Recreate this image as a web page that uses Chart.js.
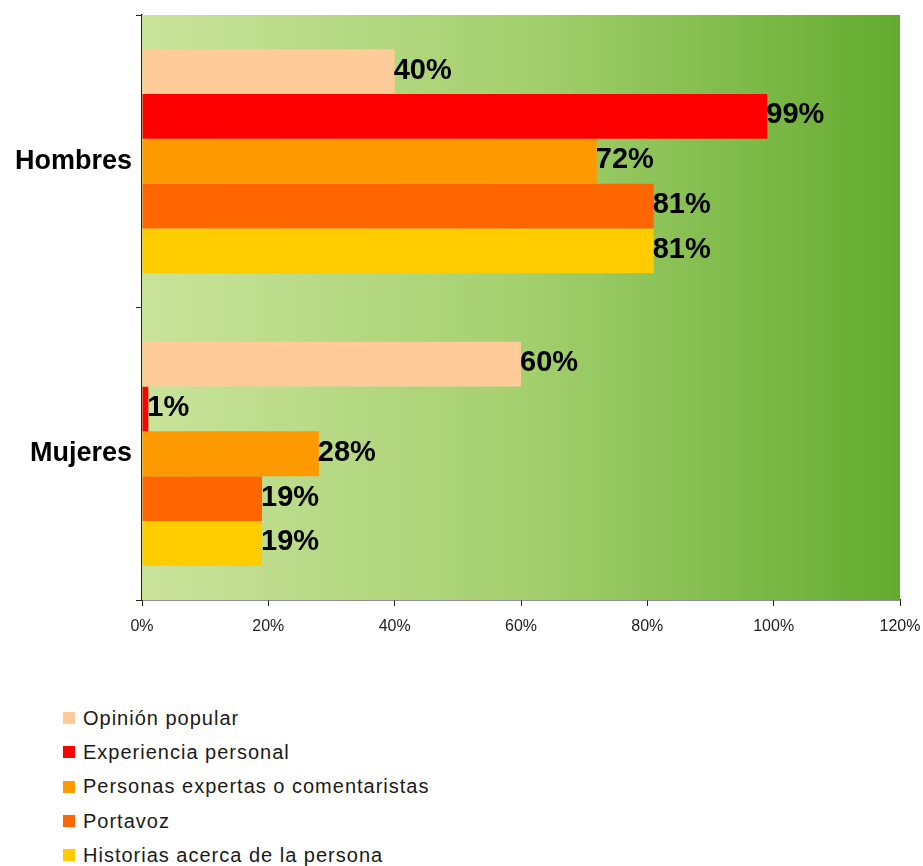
<!DOCTYPE html>
<html>
<head>
<meta charset="utf-8">
<script src="https://cdn.jsdelivr.net/npm/chart.js@4/dist/chart.umd.min.js"></script>
<style>
  body { margin: 0; background: #fff; }
  #wrap { position: relative; width: 923px; height: 866px; }
  #chart-box { position: absolute; left: 0; top: 0; width: 923px; height: 650px; }
  #legend { position: absolute; left: 63px; top: 701px; margin: 0; padding: 0; list-style: none;
            font-family: "Liberation Sans", Arial, sans-serif; font-size: 20px; letter-spacing: 1px; color: #1a1a1a; }
  #legend li { height: 34.3px; display: flex; align-items: center; }
  #legend .swatch { width: 12px; height: 12px; margin-right: 8px; flex: none; }
</style>
</head>
<body>
<div id="wrap">
  <div id="chart-box"><canvas id="chart"></canvas></div>
  <ul id="legend"></ul>
</div>
<script>
const categories = ["Hombres", "Mujeres"];
const seriesNames = [
  "Opinión popular",
  "Experiencia personal",
  "Personas expertas o comentaristas",
  "Portavoz",
  "Historias acerca de la persona",
];
const opinionPopular = [40, 60];
const experienciaPersonal = [99, 1];
const personasExpertas = [72, 28];
const portavoz = [81, 19];
const historias = [81, 19];
const seriesColors = ["#ffcc99", "#ff0000", "#ff9900", "#ff6600", "#ffcc00"];

const seriesValues = [opinionPopular, experienciaPersonal, personasExpertas, portavoz, historias];

// green wash behind the bars
const plotBackground = {
  id: "plotBackground",
  beforeDatasetsDraw(chart) {
    const { ctx, chartArea: a } = chart;
    const g = ctx.createLinearGradient(a.left, 0, a.right, 0);
    g.addColorStop(0, "#c9e39b");
    g.addColorStop(0.5, "#a5d06f");
    g.addColorStop(1, "#63ab2f");
    ctx.save();
    ctx.fillStyle = g;
    ctx.fillRect(a.left, a.top, a.right - a.left, a.bottom - a.top);
    ctx.restore();
  },
};

// percentage printed at the end of each bar
const barValues = {
  id: "barValues",
  afterDatasetsDraw(chart) {
    const { ctx } = chart;
    ctx.save();
    ctx.font = "bold 29px 'Liberation Sans', Arial, sans-serif";
    ctx.fillStyle = "#000";
    ctx.textAlign = "left";
    ctx.textBaseline = "middle";
    chart.data.datasets.forEach((ds, i) => {
      chart.getDatasetMeta(i).data.forEach((bar, j) => {
        ctx.fillText(ds.data[j] + "%", bar.x - 1, bar.y - 1);
      });
    });
    ctx.restore();
  },
};

new Chart(document.getElementById("chart"), {
  type: "bar",
  data: {
    labels: categories,
    datasets: seriesNames.map((name, i) => ({
      label: name,
      data: seriesValues[i],
      backgroundColor: seriesColors[i],
      borderWidth: 0,
      barPercentage: 1,
      categoryPercentage: 0.765,
    })),
  },
  options: {
    indexAxis: "y",
    responsive: true,
    maintainAspectRatio: false,
    animation: false,
    layout: { padding: { top: 15, right: 23, left: 0, bottom: 0 } },
    plugins: {
      legend: { display: false },
      tooltip: { enabled: false },
    },
    scales: {
      x: {
        min: 0,
        max: 120,
        ticks: {
          stepSize: 20,
          callback: (v) => v + "%",
          color: "#222",
          font: { family: "'Liberation Sans', Arial, sans-serif", size: 16 },
          padding: 11,
          maxRotation: 0,
        },
        grid: { drawOnChartArea: false, tickLength: 6, color: "#222", lineWidth: 1 },
        border: { color: "#222", width: 1.5 },
        afterFit(scale) {
          scale.height = 50;
          scale.paddingLeft = 0;
          scale.paddingRight = 0;
        },
      },
      y: {
        ticks: {
          color: "#000",
          font: { family: "'Liberation Sans', Arial, sans-serif", size: 27, weight: "bold" },
          padding: 4,
        },
        grid: { offset: true, drawOnChartArea: false, tickLength: 6, color: "#222", lineWidth: 1 },
        border: { color: "#222", width: 1.5 },
        afterFit(scale) {
          scale.width = 142;
          scale.paddingTop = 0;
          scale.paddingBottom = 0;
        },
      },
    },
  },
  plugins: [plotBackground, barValues],
});

// series key, one entry per line
const legend = document.getElementById("legend");
seriesNames.forEach((name, i) => {
  const li = document.createElement("li");
  const sw = document.createElement("span");
  sw.className = "swatch";
  sw.style.background = seriesColors[i];
  li.appendChild(sw);
  li.appendChild(document.createTextNode(name));
  legend.appendChild(li);
});
</script>
</body>
</html>
